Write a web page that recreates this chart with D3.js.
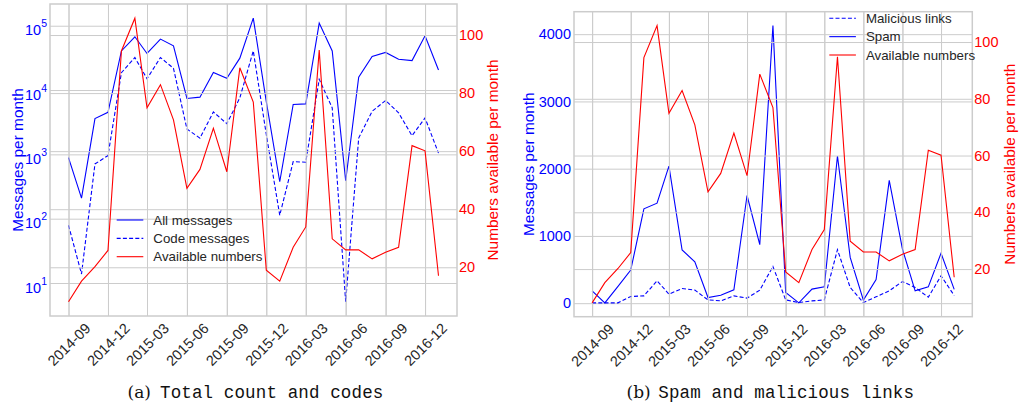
<!DOCTYPE html>
<html><head><meta charset="utf-8">
<script src="https://cdn.jsdelivr.net/npm/d3@7"></script>
<style>body{margin:0;background:#fff} svg{display:block}</style>
</head><body>
<script>
// ---------- data ----------
const months = ["2014-09","2014-10","2014-11","2014-12","2015-01","2015-02","2015-03","2015-04","2015-05","2015-06","2015-07","2015-08","2015-09","2015-10","2015-11","2015-12","2016-01","2016-02","2016-03","2016-04","2016-05","2016-06","2016-07","2016-08","2016-09","2016-10","2016-11","2016-12","2017-01"];
const allMessages = [890, 209, 3600, 4500, 40600, 67300, 37000, 62000, 48700, 7400, 7750, 18800, 15200, 31300, 131000, 6600, 375, 5960, 6100, 110000, 40600, 389, 15900, 33200, 38400, 30100, 28700, 69800, 20500];
const codeMessages = [79, 13.8, 710, 957, 18600, 32000, 15000, 32000, 21800, 2480, 1790, 4570, 3000, 7570, 40600, 2040, 113, 771, 755, 14700, 5280, 5.1, 1790, 4680, 6870, 4420, 1950, 3680, 1045];
const availableNumbers = [8.1, 15.2, 20.2, 25.8, 94.5, 105.8, 74.9, 82.9, 70.8, 47.2, 53.7, 67.9, 52.9, 88.7, 76.9, 19, 15.2, 26.9, 33.9, 94.8, 29.8, 26, 26, 22.9, 25.2, 26.9, 61.9, 60.1, 17.1];
const spam = [184, 5, 250, 492, 1403, 1487, 2039, 791, 616, 84, 119, 198, 1601, 870, 4128, 158, 5, 209, 243, 2188, 681, 45, 350, 1825, 806, 184, 243, 743, 205];
const malicious = [5, 5, 5, 99, 109, 333, 134, 218, 194, 49, 34, 109, 75, 194, 546, 49, 9, 34, 49, 796, 233, 9, 94, 184, 322, 234, 89, 407, 114];
const xTickLabels = ["2014-09","2014-12","2015-03","2015-06","2015-09","2015-12","2016-03","2016-06","2016-09","2016-12"];
const logTicks = [10, 100, 1000, 10000, 100000];
const numberTicks = [20, 40, 60, 80, 100];
const spamTicks = [0, 1000, 2000, 3000, 4000];

// ---------- setup ----------
const W = 1019, H = 406;
const BLUE = "#0000ff", RED = "#ff0000", GRID = "#cccccc", TXT = "#262626";
const SANS = "'Liberation Sans', Arial, sans-serif";
const TICK_FS = 14.5;
const svg = d3.select("body").append("svg").attr("width", W).attr("height", H);
svg.append("rect").attr("width", W).attr("height", H).attr("fill", "#fff");
const parse = d3.timeParse("%Y-%m");
const dates = months.map(parse);
const xTickDates = xTickLabels.map(parse);

function padLinear(vals) {
  const [a, b] = d3.extent(vals); const m = (b - a) * 0.05; return [a - m, b + m];
}
function padLog(vals) {
  const [a, b] = d3.extent(vals).map(Math.log10); const m = (b - a) * 0.05;
  return [Math.pow(10, a - m), Math.pow(10, b + m)];
}
function padTime(ds) {
  const [a, b] = d3.extent(ds); const m = (b - a) * 0.05;
  return [new Date(+a - m), new Date(+b + m)];
}

function styleGrid(g) {
  g.select(".domain").remove();
  g.selectAll("line").attr("stroke", GRID).attr("stroke-width", 1);
  g.selectAll("text").remove();
}

function panel(o) {
  const {x0, x1, y0, y1} = o.box;
  const w = x1 - x0, h = y1 - y0;
  const x = d3.scaleTime().domain(padTime(dates)).range([x0, x1]);
  const yL = o.yLeft.range([y1, y0]);
  const yR = d3.scaleLinear().domain(padLinear(availableNumbers)).range([y1, y0]);
  const root = svg.append("g");

  // ax1 grid
  root.append("g").attr("transform", `translate(${x0},0)`)
    .call(d3.axisLeft(yL).tickValues(o.leftTicks).tickSize(-w).tickFormat("")).call(styleGrid);
  root.append("g").attr("transform", `translate(0,${y1})`)
    .call(d3.axisBottom(x).tickValues(xTickDates).tickSize(h).tickFormat("")).call(styleGrid)
    .selectAll("line").attr("y2", -h);
  // ax1 lines
  o.leftSeries.forEach(s => {
    root.append("path").datum(s.values)
      .attr("fill", "none").attr("stroke", BLUE).attr("stroke-width", 1.1)
      .attr("stroke-dasharray", s.dash ? "4,2.2" : null)
      .attr("d", d3.line().x((d, i) => x(dates[i])).y(d => yL(d)));
  });
  // ax2 grid
  root.append("g").attr("transform", `translate(${x0},0)`)
    .call(d3.axisLeft(yR).tickValues(numberTicks).tickSize(-w).tickFormat("")).call(styleGrid);
  root.append("g").attr("transform", `translate(0,${y1})`)
    .call(d3.axisBottom(x).tickValues(xTickDates).tickSize(h).tickFormat("")).call(styleGrid)
    .selectAll("line").attr("y2", -h);
  // ax2 line
  root.append("path").datum(availableNumbers)
    .attr("fill", "none").attr("stroke", RED).attr("stroke-width", 1.1)
    .attr("d", d3.line().x((d, i) => x(dates[i])).y(d => yR(d)));
  // frame
  root.append("rect").attr("x", x0).attr("y", y0).attr("width", w).attr("height", h)
    .attr("fill", "none").attr("stroke", GRID).attr("stroke-width", 1.5);

  // left tick labels
  const la = root.append("g").attr("transform", `translate(${x0},0)`)
    .call(d3.axisLeft(yL).tickValues(o.leftTicks).tickSize(0).tickPadding(3).tickFormat(o.leftFormat || d3.format("d")));
  la.select(".domain").remove();
  la.selectAll("text").attr("fill", BLUE).attr("font-family", SANS).attr("font-size", TICK_FS);
  if (o.logLabels) {
    la.selectAll("text").each(function(d) {
      const t = d3.select(this); const e = Math.round(Math.log10(d));
      t.text(null).attr("dy", "0.62em");
      t.append("tspan").text("10");
      t.append("tspan").attr("font-size", 10.5).attr("dy", "-0.75em").text(e);
    });
  }
  // right tick labels
  const ra = root.append("g").attr("transform", `translate(${x1},0)`)
    .call(d3.axisRight(yR).tickValues(numberTicks).tickSize(0).tickPadding(2));
  ra.select(".domain").remove();
  ra.selectAll("text").attr("fill", RED).attr("font-family", SANS).attr("font-size", TICK_FS);
  // bottom tick labels
  const ba = root.append("g").attr("transform", `translate(0,${y1})`)
    .call(d3.axisBottom(x).tickValues(xTickDates).tickSize(0).tickFormat(d3.timeFormat("%Y-%m")));
  ba.select(".domain").remove();
  ba.selectAll("text").attr("fill", TXT).attr("font-family", SANS).attr("font-size", TICK_FS)
    .attr("y", null).attr("dy", null).attr("text-anchor", "middle")
    .attr("dominant-baseline", "central").attr("transform", "translate(0,28.5) rotate(-45)");

  // axis titles
  const cy = (y0 + y1) / 2;
  root.append("text").attr("transform", `translate(${o.leftTitleX},${cy}) rotate(-90)`)
    .attr("text-anchor", "middle").attr("dominant-baseline", "central")
    .attr("font-family", SANS).attr("font-size", 15.4).attr("fill", BLUE).text("Messages per month");
  root.append("text").attr("transform", `translate(${o.rightTitleX},${cy}) rotate(-90)`)
    .attr("text-anchor", "middle").attr("dominant-baseline", "central")
    .attr("font-family", SANS).attr("font-size", 15.4).attr("fill", RED).text("Numbers available per month");

  // legend
  const lg = root.append("g");
  o.legend.items.forEach((it, i) => {
    const yy = o.legend.y + i * 18.35;
    lg.append("line").attr("x1", o.legend.x).attr("x2", o.legend.x + 26.6)
      .attr("y1", yy).attr("y2", yy).attr("stroke", it.color).attr("stroke-width", 1.1)
      .attr("stroke-dasharray", it.dash ? "4,2.2" : null);
    lg.append("text").attr("x", o.legend.x + 36.6).attr("y", yy)
      .attr("dominant-baseline", "central").attr("font-family", SANS).attr("font-size", 13.3)
      .attr("fill", TXT).text(it.label);
  });

  // caption
  root.append("text").attr("x", o.caption.x).attr("y", 397.5)
    .attr("font-family", "'DejaVu Serif', 'Liberation Serif', serif").attr("font-size", 17)
    .attr("fill", "#111").text(o.caption.tag);
  root.append("text").attr("x", o.caption.mx).attr("y", 397.5)
    .attr("font-family", "'Liberation Mono', 'DejaVu Sans Mono', monospace").attr("font-size", 17.5)
    .attr("textLength", o.caption.len).attr("lengthAdjust", "spacing")
    .attr("fill", "#111").text(o.caption.text);
}

panel({
  box: {x0: 50, x1: 457, y0: 4, y1: 316},
  yLeft: d3.scaleLog().domain(padLog(allMessages.concat(codeMessages))),
  leftTicks: logTicks, logLabels: true,
  leftSeries: [{values: allMessages, dash: false}, {values: codeMessages, dash: true}],
  leftTitleX: 17, rightTitleX: 492.5,
  legend: {x: 116.7, y: 220, items: [
    {label: "All messages", color: BLUE, dash: false},
    {label: "Code messages", color: BLUE, dash: true},
    {label: "Available numbers", color: RED, dash: false}]},
  caption: {x: 127.5, tag: "(a)", mx: 160, text: "Total count and codes", len: 223.3}
});

panel({
  box: {x0: 574, x1: 972.3, y0: 11.7, y1: 316.7},
  yLeft: d3.scaleLinear().domain(padLinear(spam.concat(malicious))),
  leftTicks: spamTicks, logLabels: false,
  leftSeries: [{values: malicious, dash: true}, {values: spam, dash: false}],
  leftTitleX: 528, rightTitleX: 1009,
  legend: {x: 829.3, y: 18.3, items: [
    {label: "Malicious links", color: BLUE, dash: true},
    {label: "Spam", color: BLUE, dash: false},
    {label: "Available numbers", color: RED, dash: false}]},
  caption: {x: 626.5, tag: "(b)", mx: 658.3, text: "Spam and malicious links", len: 255.7}
});
</script>
</body></html>
